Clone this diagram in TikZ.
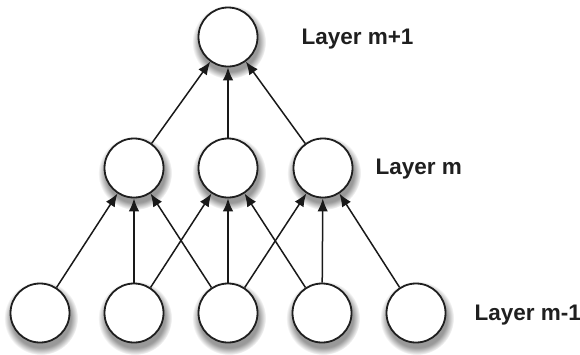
\documentclass[tikz,border=0pt]{standalone}
\usepackage{fontspec}
\setmainfont{Liberation Sans}
\usetikzlibrary{arrows.meta,fadings}
\begin{document}
\begin{tikzpicture}[x=1pt,y=-1pt,
  neuron/.style={circle,draw=black!88,line width=1.8pt,fill=white,minimum size=59pt,inner sep=0pt},
  conn/.style={draw=black!90,line width=1.5pt,-{Latex[length=13pt,width=10.5pt]}},
  lbl/.style={anchor=base west,font=\fontsize{22.5}{27}\selectfont\bfseries,text=black!88},
  shade/.style={fill=black,opacity=0.4,path fading=circle with fuzzy edge 20 percent}]
\useasboundingbox (0,0) rectangle (580,354);
% soft shadows
\foreach \x/\y in {228/37,134/168,228/168,323/168,40/313,134/313,228/313,322/313,416/313}
  \fill[shade] (\x+1,\y+5) circle (37);
% nodes
\node[neuron] (t)  at (228,37) {};
\node[neuron] (m1) at (134,168) {};
\node[neuron] (m2) at (228,168) {};
\node[neuron] (m3) at (323,168) {};
\node[neuron] (b1) at (40,313) {};
\node[neuron] (b2) at (134,313) {};
\node[neuron] (b3) at (228,313) {};
\node[neuron] (b4) at (322,313) {};
\node[neuron] (b5) at (416,313) {};
% connections
\draw[conn] (m1) -- (t);
\draw[conn] (m2) -- (t);
\draw[conn] (m3) -- (t);
\draw[conn] (b1) -- (m1);
\draw[conn] (b2) -- (m1);
\draw[conn] (b3) -- (m1);
\draw[conn] (b2) -- (m2);
\draw[conn] (b3) -- (m2);
\draw[conn] (b4) -- (m2);
\draw[conn] (b3) -- (m3);
\draw[conn] (b4) -- (m3);
\draw[conn] (b5) -- (m3);
% labels
\node[lbl] (l1) at (298,44) {Layer m+1};
\node[lbl] (l2) at (372,174) {Layer m};
\node[lbl] (l3) at (471,320) {Layer m-1};
\end{tikzpicture}
\end{document}
